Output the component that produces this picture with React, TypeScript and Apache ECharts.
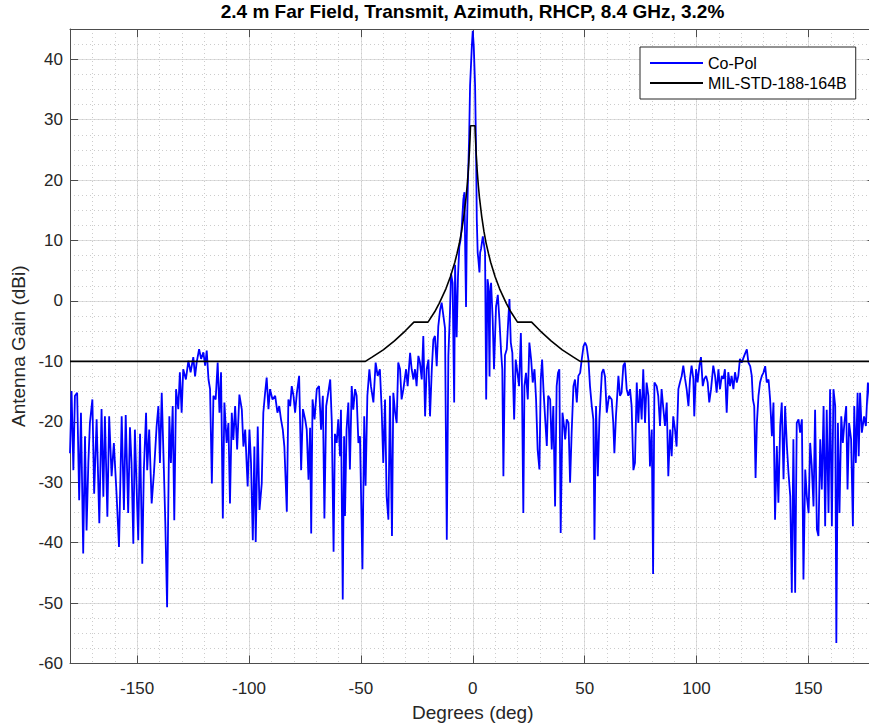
import React, { useEffect, useRef } from "react";
import * as echarts from "echarts";

// ---- Data ----
const titleText = "2.4 m Far Field, Transmit, Azimuth, RHCP, 8.4 GHz, 3.2%";
const xName = "Degrees (deg)";
const yName = "Antenna Gain (dBi)";
const seriesNames = ["Co-Pol", "MIL-STD-188-164B"];

// Co-Pol gain [deg, dBi]
const coPolFarLeft: number[][] = [
  [-180, -25.2], [-179.3, -14.9], [-178.5, -28], [-177.8, -15.7], [-176.8, -15.2], [-175.9, -33],
  [-175.1, -18.5], [-174.1, -41.8], [-173.3, -22.4], [-172.6, -38], [-171.8, -26.8], [-171.1, -20.2],
  [-170, -16.3], [-169.2, -31.9], [-168.1, -19.6], [-166.9, -36.8], [-165.9, -17.9], [-165.1, -32.4],
  [-164.4, -19.1], [-163.3, -35.7], [-162.5, -19.1], [-161.4, -29], [-160.4, -23.5], [-159.2, -31.9],
  [-158.1, -40.7], [-156.9, -19.1], [-155.9, -34.6], [-155.1, -18.9], [-154, -35.1], [-153.2, -20.9],
  [-152.5, -26.8], [-151.7, -40.2], [-151, -21.3], [-150.2, -31.3], [-149.5, -39.6], [-148.7, -22],
  [-147.7, -43.5], [-147, -28], [-146, -18.5], [-145.5, -28], [-144.6, -21.3], [-143.5, -33.5],
  [-142.5, -28.5], [-141.3, -20.8], [-140.5, -17.4], [-139.8, -26.8], [-139, -15.2], [-138, -28.5],
  [-137.4, -36.8], [-136.6, -50.7], [-135.6, -19.1], [-134.9, -26.8], [-134.1, -17.4], [-133.4, -36.3],
  [-132.6, -14.6], [-131.6, -17.9], [-130.9, -11.8], [-130.1, -18.5], [-129.4, -11.3], [-128.2, -13],
  [-127.1, -9.9], [-126.1, -11.8], [-124.9, -9.3], [-124.1, -12.5], [-123.4, -10.2], [-122.3, -8],
];

const coPolNearLeft: number[][] = [
  [-121.4, -9.6], [-120.4, -8.5], [-119.6, -10.7], [-118.9, -8.2], [-118.1, -13], [-117.4, -14.6],
  [-116.6, -30.2], [-115.9, -15.7], [-114.9, -16.3], [-114, -10.2], [-113.2, -18.5], [-112.5, -11.8],
  [-111.7, -36], [-111, -16.8], [-110, -23.5], [-109.2, -20.2], [-108.5, -33.5], [-107.7, -18.5],
  [-107, -23], [-106.2, -17.4], [-105.3, -24.6], [-104.3, -15.5], [-103.2, -18], [-102.5, -24.1],
  [-101.7, -21.3], [-101, -27.4], [-100.6, -30.7], [-99.8, -21.3], [-99.1, -26.8], [-98.3, -39.6],
  [-97.6, -24.1], [-97, -39.9], [-96.1, -20.8], [-95.3, -34.6], [-94.3, -30.2], [-93.6, -18.5],
  [-92.8, -15.2], [-92.1, -12.7], [-91.3, -17.9], [-90.6, -14.6], [-89.5, -16.3], [-88.3, -15.7],
  [-87.3, -18.5], [-86.5, -17.4], [-85.7, -19.6], [-84.9, -21.3], [-84.2, -24.1], [-83.1, -34.9],
  [-82.4, -16.3], [-81.6, -17.4], [-80.9, -14.1], [-80.1, -15.7], [-79.4, -18.5], [-78.6, -15.2],
  [-77.6, -12.4], [-76.7, -28], [-75.9, -17.9], [-74.9, -19.6], [-74.2, -21.3], [-73.4, -29.6],
  [-72.7, -21], [-72.2, -38.5], [-71.6, -16.3], [-70.7, -19.6], [-69.7, -14.6], [-68.7, -14.1],
  [-67.8, -21.3], [-67, -15.7], [-66.3, -36], [-65.5, -17.4], [-64.8, -15.7], [-63.7, -13],
  [-63, -20], [-62.2, -41.5], [-61.6, -22], [-60.8, -23.5], [-60.1, -19.6], [-59.3, -25.7],
  [-58.9, -18], [-58.1, -49.4], [-57.5, -22.4], [-57.1, -35.6], [-56.4, -21.3], [-55.6, -16.8],
  [-54.9, -27.9], [-54.1, -14.1], [-53.4, -18], [-52.6, -14.6], [-51.9, -15.7], [-51.1, -23.5],
  [-50.4, -22.4], [-49.3, -44.4], [-48.5, -19.1], [-47.9, -30.6], [-47.1, -15.7], [-46.2, -11.3],
  [-45.5, -14.1], [-44.4, -16.8], [-43.4, -10.2], [-42.5, -12.4], [-41.5, -11.3], [-40.7, -18],
  [-40, -26.8], [-39.2, -16.3], [-38.5, -32.3], [-37.7, -36.2], [-37, -15.7], [-36.1, -38.9],
  [-35.5, -15.2], [-34.7, -18.5], [-34, -20.2], [-33.3, -10.2], [-32.5, -11.3], [-31.8, -16.3],
  [-31, -14.6], [-29.8, -11.3], [-29.1, -14.1], [-28, -8.6], [-27.3, -11.3], [-26.5, -13],
  [-25.8, -11.3], [-25.1, -14.1], [-24.3, -9.1], [-23.6, -10.2], [-22.8, -13], [-22.1, -5.8],
  [-21.3, -19.1], [-20.6, -11.3], [-19.8, -9.7], [-19.1, -19.1], [-18.3, -11.3], [-17.6, -6.4],
  [-16.9, -5.8], [-16.1, -10.8], [-15.4, -4.2],
];

const coPolMainLobe: number[][] = [
  [-14.6, -1.5], [-13.9, -0.3], [-13.1, -2.5], [-12.4, -4.5], [-11.6, -39.5], [-10.9, -9.1],
  [-10.2, -2], [-9.7, 4.5], [-9, 3], [-8.3, -16.8], [-7.9, 6], [-7.2, -6], [-6.6, 4], [-6, 9],
  [-5.4, 10.2], [-4.9, 12.4], [-4.2, 16.8], [-3.7, 18], [-3.4, 9], [-3, -1], [-2.7, 10],
  [-2.2, 19], [-1.6, 27.3], [-1.2, 35.6], [-0.4, 42.2], [0, 44.7], [0.45, 42.2], [1.05, 35.6],
  [1.5, 24.5], [1.8, 13.5], [2.2, 8], [2.5, 6.9], [3, 4.7], [3.3, 8], [3.7, 8.6], [4.5, 10.7],
  [5.1, 9.1], [5.5, 8], [6, -16.3], [6.6, 3.6], [7, 2.5], [7.5, -12.5], [7.8, 1.4], [8.2, 3],
  [8.9, -3], [9.5, -11.3], [10.4, -1], [11.2, 1], [11.9, -3], [12.7, -8.6], [13.2, -11.3],
  [13.7, -29], [14.4, -9], [15.2, -8], [15.9, -3], [16.4, 0.3],
];

const coPolNearRight: number[][] = [
  [17, -6.9], [17.7, -8.6], [18.5, -19.6], [19.2, -9.7], [20, -11.9], [20.7, -14.1], [21.5, -5.3],
  [22, -14.1], [22.6, -35.1], [23.1, -14.1], [23.8, -11.9], [24.6, -16.3], [25.3, -6.9], [26.1, -9.7],
  [26.8, -13.5], [27.6, -11.3], [28.3, -16.3], [29, -24.6], [29.8, -27.9], [30.4, -13], [31, -9.7],
  [31.6, -14.6], [32.3, -19.1], [33.1, -24], [33.7, -15.7], [34.6, -16.3], [35.3, -24.6], [36, -17.4],
  [36.8, -34], [37.5, -14.1], [38.1, -11.9], [38.7, -11.3], [39.3, -38.4], [40.1, -18.5], [40.8, -20.7],
  [41.3, -22.9], [42, -19.6], [42.8, -20.2], [43.5, -30.1], [44.2, -21.8], [45, -14.1], [45.7, -13],
  [46.5, -16.8], [47.2, -12.4], [48, -11.9], [48.7, -9.7], [49.5, -7.5], [50.2, -6.9], [50.9, -7.5],
  [51.7, -9.7], [52.4, -14.1], [53.2, -17.4], [53.9, -19.6], [54.4, -39.5], [55.1, -17.4], [55.9, -29],
  [56.6, -19.6], [57.7, -11.9], [58.4, -11.3], [59.1, -12.5], [59.9, -18.5], [60.9, -15.7], [62.1, -16.3],
  [62.8, -20.2], [63.3, -25.2], [64, -19.1], [65.1, -12.4], [65.8, -15.7], [66.5, -15.2], [67.3, -10.7],
  [68, -10.2], [68.8, -14.6], [69.5, -15.7], [70.3, -14.6], [71, -17.4], [71.8, -28], [72.5, -26.8],
  [73.3, -13.5], [74, -20.2], [74.7, -14.6], [75.5, -19.6], [76.2, -11.3], [77, -20.2], [77.7, -13.5],
  [78.5, -15.7], [79.2, -27.4], [80, -21.3], [80.6, -45.2], [81.2, -13.5], [82.2, -14.1], [82.9, -15.7],
  [83.7, -20.7], [84.4, -14.6], [85.2, -17.9], [85.9, -20.7], [86.7, -16.8], [87.4, -29], [88.2, -21.3],
  [88.9, -25.7], [89.6, -19.1], [90.4, -21.3], [91.1, -24.1], [91.9, -14.6], [92.6, -13.5], [93.4, -12.4],
  [94.1, -10.7], [94.9, -12.9], [95.6, -14.6], [96.4, -17.4], [97.1, -12.9], [97.8, -10.7], [98.6, -12.9],
  [99, -19.1], [99.8, -11.3], [100.5, -13.5], [101.3, -10.7], [102, -9.3], [102.8, -14.1], [103.5, -12.9],
  [104.3, -12.4], [105, -13.5], [105.7, -16.8], [106.5, -14.6], [107.5, -10.7], [108.3, -12.4], [109, -15.2],
  [109.8, -11.3], [110.5, -14.6], [111.3, -12.4], [112, -12.9], [112.7, -11.3], [113.5, -18.5], [114.2, -11.8],
  [115, -14.1], [115.7, -12.4], [116.5, -14.6], [117.2, -11.8], [118, -13.5], [118.7, -12.4], [119.4, -9.6],
  [120.2, -10.2], [121.4, -9],
];

const coPolFarRight: number[][] = [
  [122.5, -8], [123.2, -10.2], [124, -10.8], [124.7, -12.4], [125.2, -16.3], [125.8, -17.4], [126.4, -29.3],
  [127, -20.2], [127.7, -15.7], [128.4, -13.5], [129.2, -12.4], [129.9, -11.9], [130.7, -10.8], [131.4, -13.5],
  [132.2, -13], [132.9, -16.3], [133.7, -22.4], [134.4, -16.8], [135.1, -36.2], [135.9, -24], [136.6, -33.4],
  [137.4, -20.7], [138.1, -16.8], [138.9, -29.5], [139.6, -17.4], [140.4, -24], [141.1, -28.4], [141.9, -32.3],
  [142.6, -48.3], [143.3, -22.9], [144.1, -48.3], [144.8, -20.2], [145.6, -19.6], [146.3, -21.8], [147.1, -19.6],
  [147.8, -46.1], [148.6, -27.9], [149.3, -32.3], [150.1, -35.1], [150.8, -23.5], [151.5, -27.3], [152.3, -34],
  [153, -18], [153.8, -37.8], [154.5, -38.9], [155.3, -22.9], [156, -31.2], [156.8, -17.4], [157.5, -37.3],
  [158.2, -18], [159, -35.1], [159.7, -14.6], [160.5, -37.3], [161.2, -14.6], [162, -17.4], [162.5, -56.6],
  [163.2, -20.2], [163.9, -35.1], [164.7, -19.1], [165.4, -23.5], [166.1, -20.2], [166.9, -17.4], [167.5, -31.2],
  [168.2, -20.2], [169.1, -22.9], [169.9, -37.3], [170.5, -17.4], [171.2, -26.8], [172, -15.2], [172.5, -25.7],
  [173.1, -15.2], [173.9, -21.8], [174.9, -19.1], [175.7, -20.7], [176.6, -13.5], [177.2, -15], [178, -21],
  [179, -17], [180, -19],
];

// MIL-STD-188-164B mask [deg, dBi]
const maskEnvelope: number[][] = [
  [-180, -10], [-48, -10], [-45, -9.3], [-40, -8.1], [-35, -6.6], [-30, -4.9], [-26.3, -3.5], [-20, -3.5],
  [-17, -1.8], [-15, -0.4], [-12, 2], [-10, 4], [-8, 6.4], [-7, 7.9], [-6, 9.5], [-5, 11.5], [-4, 14],
  [-3, 17.1], [-2.5, 19.1], [-2, 21.5], [-1.5, 24.6], [-1.2, 27], [-1, 29], [1, 29], [1.2, 27], [1.5, 24.6],
  [2, 21.5], [2.5, 19.1], [3, 17.1], [4, 14], [5, 11.5], [6, 9.5], [7, 7.9], [8, 6.4], [10, 4], [12, 2],
  [15, -0.4], [17, -1.8], [20, -3.5], [26.3, -3.5], [30, -4.9], [35, -6.6], [40, -8.1], [45, -9.3],
  [48, -10], [180, -10],
];

const coPol = [...coPolFarLeft, ...coPolNearLeft, ...coPolMainLobe, ...coPolNearRight, ...coPolFarRight];

const FONT = "'Liberation Sans', Arial, Helvetica, sans-serif";
const TXT = "#262626";
const AXIS = "#4d4d4d";
const BLUE = "#0000ff";

export default function App() {
  const ref = useRef<HTMLDivElement>(null);
  useEffect(() => {
    if (!ref.current) return;
    const chart = echarts.init(ref.current, null, { renderer: "svg" });
    const tick = { show: true, inside: true, length: 8, lineStyle: { color: AXIS, width: 1 } };
    const line = { show: true, onZero: false, lineStyle: { color: AXIS, width: 1 } };
    const hiddenLine = { show: false, onZero: false };
    chart.setOption({
      animation: false,
      backgroundColor: "#ffffff",
      grid: { left: 70, right: 4.5, top: 29, bottom: 63.5, containLabel: false },
      graphic: [
        {
          type: "text",
          x: 472.5,
          y: 11,
          style: {
            text: titleText,
            fontFamily: FONT,
            fontSize: 19,
            fontWeight: "bold",
            fill: "#000",
            align: "center",
            verticalAlign: "middle",
          },
        },
      ],
      legend: {
        data: [
          { name: seriesNames[0], icon: "rect", itemStyle: { color: BLUE } },
          { name: seriesNames[1], icon: "rect", itemStyle: { color: "#000000" } },
        ],
        orient: "vertical",
        left: 640,
        top: 47,
        padding: [8, 9, 8, 10],
        itemGap: 4,
        itemWidth: 53,
        itemHeight: 2,
        backgroundColor: "#ffffff",
        borderColor: TXT,
        borderWidth: 1,
        textStyle: { fontFamily: FONT, fontSize: 16, color: "#000", lineHeight: 16 },
      },
      xAxis: [
        {
          type: "value",
          position: "bottom",
          min: -180,
          max: 180,
          splitNumber: 7,
          name: xName,
          nameLocation: "middle",
          nameGap: 39,
          nameTextStyle: { fontFamily: FONT, fontSize: 19, color: TXT },
          axisLine: line,
          axisTick: tick,
          axisLabel: { fontFamily: FONT, fontSize: 17, color: TXT, margin: 16, showMinLabel: false, showMaxLabel: false },
          splitLine: { show: true, lineStyle: { color: "#dedede", width: 1 } },
        },
        {
          type: "value",
          position: "top",
          min: -180,
          max: 180,
          splitNumber: 7,
          axisLine: line,
          axisTick: tick,
          axisLabel: { show: false },
          splitLine: { show: false },
        },
        {
          type: "value",
          position: "bottom",
          min: -180,
          max: 180,
          interval: 10,
          axisLine: hiddenLine,
          axisTick: { show: false },
          axisLabel: { show: false },
          splitLine: { show: true, lineStyle: { color: "#cccccc", width: 1, type: [1, 3] } },
        },
      ],
      yAxis: [
        {
          type: "value",
          position: "left",
          min: -60,
          max: 45,
          interval: 10,
          name: yName,
          nameLocation: "middle",
          nameGap: 41,
          nameTextStyle: { fontFamily: FONT, fontSize: 19, color: TXT },
          axisLine: line,
          axisTick: tick,
          axisLabel: { fontFamily: FONT, fontSize: 17, color: TXT, margin: 7, showMaxLabel: false },
          splitLine: { show: true, lineStyle: { color: "#dedede", width: 1 } },
        },
        {
          type: "value",
          position: "right",
          min: -60,
          max: 45,
          interval: 10,
          axisLine: line,
          axisTick: tick,
          axisLabel: { show: false },
          splitLine: { show: false },
        },
        {
          type: "value",
          position: "left",
          min: -60,
          max: 45,
          interval: 2.5,
          axisLine: hiddenLine,
          axisTick: { show: false },
          axisLabel: { show: false },
          splitLine: { show: true, lineStyle: { color: "#cccccc", width: 1, type: [1, 3] } },
        },
      ],
      series: [
        {
          name: seriesNames[0],
          type: "line",
          xAxisIndex: 0,
          yAxisIndex: 0,
          data: coPol,
          showSymbol: false,
          symbol: "none",
          lineStyle: { color: BLUE, width: 1.8 },
          itemStyle: { color: BLUE },
          z: 3,
        },
        {
          name: seriesNames[1],
          type: "line",
          xAxisIndex: 0,
          yAxisIndex: 0,
          data: maskEnvelope,
          showSymbol: false,
          symbol: "none",
          lineStyle: { color: "#000000", width: 1.6 },
          itemStyle: { color: "#000000" },
          z: 4,
        },
      ],
    });
    return () => chart.dispose();
  }, []);

  return (
    <div
      style={{
        position: "fixed",
        left: 0,
        top: 0,
        width: 869,
        height: 727,
        overflow: "hidden",
        background: "#ffffff",
      }}
    >
      <div ref={ref} style={{ width: 880, height: 727 }} />
    </div>
  );
}
